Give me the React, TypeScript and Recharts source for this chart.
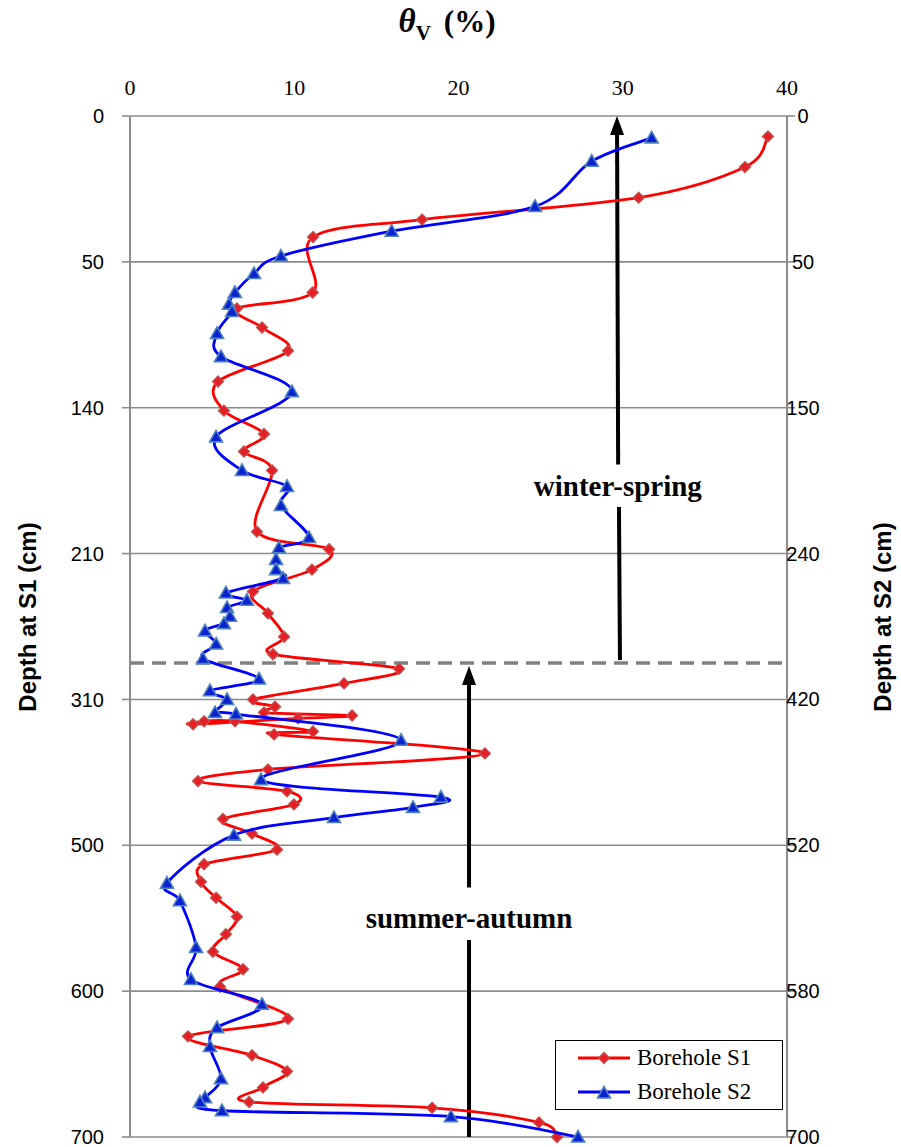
import React from 'react'
import {
  ScatterChart,
  Scatter,
  XAxis,
  YAxis,
  CartesianGrid,
  ReferenceLine,
  ReferenceDot,
  Legend,
} from 'recharts'

// theta_V (%) axis
const thetaTicks = [0, 10, 20, 30, 40]

// depth axes: gridlines are evenly spaced, the labels differ for each borehole
const depthTicks = [0, 1, 2, 3, 4, 5, 6, 7]
const depthLabelsS1 = ['0', '50', '140', '210', '310', '500', '600', '700']
const depthLabelsS2 = ['0', '50', '150', '240', '420', '520', '580', '700']

// Borehole S1: moisture (%) and position on the depth axis (grid units)
const s1Theta = [
  38.84, 37.44, 30.97, 17.78, 11.14, 11.12, 6.51, 8.04, 9.62, 5.36, 5.72, 8.16, 6.94, 8.65, 7.73,
  12.12, 11.08, 7.49, 8.4, 9.38, 8.71, 16.38, 13.03, 7.49, 8.83, 8.16, 13.52, 10.23, 3.84, 4.51,
  6.39, 11.14, 8.77, 21.61, 8.4, 4.14, 9.56, 9.98, 5.66, 7.43, 8.95, 4.51, 4.32, 5.24, 6.51, 5.84,
  5.05, 6.88, 5.48, 9.62, 3.53, 7.43, 9.56, 8.1, 7.25, 18.39, 24.9, 26.0,
]
const s1Pos = [
  0.14, 0.35, 0.56, 0.71, 0.83, 1.21, 1.32, 1.45, 1.61, 1.82, 2.02, 2.18, 2.3, 2.43, 2.85, 2.97,
  3.11, 3.26, 3.41, 3.57, 3.69, 3.79, 3.89, 4.0, 4.05, 4.09, 4.11, 4.13, 4.17, 4.15, 4.15, 4.22,
  4.24, 4.37, 4.48, 4.56, 4.63, 4.72, 4.82, 4.92, 5.03, 5.13, 5.25, 5.36, 5.49, 5.61, 5.73, 5.85,
  5.97, 6.19, 6.31, 6.44, 6.55, 6.66, 6.76, 6.8, 6.9, 7.0,
]

// Borehole S2
const s2Theta = [
  31.76, 28.11, 24.66, 15.93, 9.19, 7.55, 6.39, 6.03, 6.21, 5.3, 5.54, 9.86, 5.24, 6.82, 9.56,
  9.19, 10.9, 9.07, 8.89, 8.89, 9.32, 5.84, 7.12, 5.91, 6.09, 5.72, 4.57, 5.24, 4.44, 7.85, 4.87,
  5.91, 5.18, 6.45, 16.5, 7.98, 18.93, 17.23, 12.42, 6.33, 2.25, 3.04, 4.02, 3.71, 8.04, 5.3,
  4.87, 5.54, 4.57, 4.26, 5.6, 19.54, 27.28,
]
const s2Pos = [
  0.15, 0.31, 0.62, 0.79, 0.96, 1.08, 1.21, 1.29, 1.34, 1.49, 1.65, 1.89, 2.2, 2.43, 2.54, 2.67,
  2.89, 2.96, 3.04, 3.11, 3.17, 3.27, 3.32, 3.37, 3.43, 3.48, 3.53, 3.62, 3.72, 3.86, 3.94, 4.0,
  4.09, 4.1, 4.28, 4.55, 4.67, 4.74, 4.81, 4.93, 5.26, 5.38, 5.7, 5.92, 6.09, 6.25, 6.38, 6.6,
  6.73, 6.76, 6.82, 6.86, 7.0,
]

// season boundary (grid units)
const boundaryPos = 3.75

const s1Data = s1Theta.map((x, i) => ({ x, y: s1Pos[i] }))
const s2Data = s2Theta.map((x, i) => ({ x, y: s2Pos[i] }))
// the right axis needs a (hidden) series attached to be drawn
const rightAxisAnchor = [
  { x: 0, y: 0 },
  { x: 0, y: 7 },
]

const RED = '#ff0000'
const BLUE = '#0000ff'
const GRID = '#8c8c8c'
const SERIF = '"Liberation Serif", "Times New Roman", serif'
const SANS = '"Liberation Sans", Arial, sans-serif'

// Excel-like smoothed line (Catmull-Rom through the points in data order)
function SmoothLine(props: any) {
  const { points, lineColor } = props
  if (!points || points.length < 2) return null
  const p = points
  let d = `M${p[0].x},${p[0].y}`
  for (let i = 0; i < p.length - 1; i++) {
    const p0 = p[i - 1] ?? p[i]
    const p1 = p[i]
    const p2 = p[i + 1]
    const p3 = p[i + 2] ?? p2
    const c1x = p1.x + (p2.x - p0.x) / 6
    const c1y = p1.y + (p2.y - p0.y) / 6
    const c2x = p2.x - (p3.x - p1.x) / 6
    const c2y = p2.y - (p3.y - p1.y) / 6
    d += ` C${c1x},${c1y} ${c2x},${c2y} ${p2.x},${p2.y}`
  }
  return <path d={d} fill="none" stroke={lineColor} strokeWidth={2.8} strokeLinejoin="round" />
}

function Diamond(props: any) {
  const { cx, cy } = props
  const r = 5.5
  return (
    <polygon
      points={`${cx},${cy - r} ${cx + r},${cy} ${cx},${cy + r} ${cx - r},${cy}`}
      fill="#e61e26"
      stroke="#c0504d"
      strokeWidth={1.3}
    />
  )
}

function Triangle(props: any) {
  const { cx, cy } = props
  return (
    <polygon
      points={`${cx},${cy - 6.5} ${cx + 6.5},${cy + 5} ${cx - 6.5},${cy + 5}`}
      fill="#0a22d0"
      stroke="#4f81bd"
      strokeWidth={1.6}
    />
  )
}

function ArrowUp(props: any) {
  const { x1, y1, x2, y2 } = props
  // arrowhead at the upper end
  const top = y1 < y2 ? { x: x1, y: y1 } : { x: x2, y: y2 }
  const bot = y1 < y2 ? { x: x2, y: y2 } : { x: x1, y: y1 }
  const ang = Math.atan2(top.y - bot.y, top.x - bot.x)
  const len = 19
  const half = 7
  const bx = top.x - len * Math.cos(ang)
  const by = top.y - len * Math.sin(ang)
  const px = -Math.sin(ang) * half
  const py = Math.cos(ang) * half
  return (
    <g>
      <line x1={bot.x} y1={bot.y} x2={bx} y2={by} stroke="#000" strokeWidth={4} />
      <polygon points={`${top.x},${top.y} ${bx + px},${by + py} ${bx - px},${by - py}`} fill="#000" />
    </g>
  )
}

function makeText(text: string) {
  return (props: any) => (
    <text
      x={props.cx}
      y={props.cy}
      textAnchor="middle"
      dominantBaseline="central"
      fontFamily={SERIF}
      fontWeight={700}
      fontSize={29}
      fill="#000"
    >
      {text}
    </text>
  )
}

function RightTick(props: any) {
  const { x, y, payload } = props
  return (
    <text x={x} y={y} dy={7} textAnchor="middle" fontFamily={SANS} fontSize={20} fill="#000">
      {depthLabelsS2[payload.value]}
    </text>
  )
}

function LegendBox() {
  const row = (label: string, color: string, marker: 'd' | 't') => (
    <div style={{ display: 'flex', alignItems: 'center', height: 34 }}>
      <svg width={60} height={20}>
        <line x1={4} y1={10} x2={56} y2={10} stroke={color} strokeWidth={3} />
        {marker === 'd' ? <Diamond cx={30} cy={10} /> : <Triangle cx={30} cy={11} />}
      </svg>
      <span style={{ marginLeft: 3, fontFamily: SERIF, fontSize: 23, color: '#000' }}>{label}</span>
    </div>
  )
  return (
    <div
      style={{
        border: '1.5px solid #000',
        background: '#fff',
        width: 228,
        height: 70,
        boxSizing: 'border-box',
        paddingLeft: 18,
      }}
    >
      {row('Borehole S1', RED, 'd')}
      {row('Borehole S2', BLUE, 't')}
    </div>
  )
}

const sideTitle = {
  position: 'absolute' as const,
  top: 617,
  transform: 'translate(-50%, -50%) rotate(-90deg)',
  whiteSpace: 'nowrap' as const,
  fontFamily: SANS,
  fontWeight: 700,
  fontSize: 24,
  color: '#000',
}

export default function App() {
  return (
    <div style={{ position: 'absolute', left: 0, top: 0, width: 901, height: 1147, background: '#fff' }}>
      <div
        style={{
          position: 'absolute',
          left: 0,
          top: 3,
          width: 894,
          textAlign: 'center',
          fontFamily: SERIF,
          fontWeight: 700,
          fontSize: 31,
          color: '#000',
        }}
      >
        <span style={{ fontStyle: 'italic', fontSize: 33 }}>θ</span>
        <span style={{ fontSize: 21, position: 'relative', top: 8 }}>V</span>
        <span style={{ marginLeft: 13 }}>(%)</span>
      </div>

      <div style={{ ...sideTitle, left: 28 }}>Depth at S1 (cm)</div>
      <div style={{ ...sideTitle, left: 883 }}>Depth at S2 (cm)</div>

      <ScatterChart width={901} height={1147} margin={{ top: 0, right: 0, left: 0, bottom: 10 }}>
        <CartesianGrid vertical={false} stroke={GRID} strokeWidth={1.6} yAxisId="left" />
        <XAxis
          dataKey="x"
          type="number"
          orientation="top"
          height={116}
          domain={[0, 40]}
          ticks={thetaTicks}
          axisLine={false}
          tickLine={false}
          tickSize={0}
          tickMargin={21}
          tick={{ fontFamily: SERIF, fontSize: 22, fill: '#000' }}
        />
        <YAxis
          yAxisId="left"
          dataKey="y"
          type="number"
          orientation="left"
          width={130}
          domain={[0, 7]}
          reversed
          ticks={depthTicks}
          interval={0}
          tickFormatter={(v: number) => depthLabelsS1[v]}
          axisLine={{ stroke: GRID, strokeWidth: 2 }}
          tickLine={{ stroke: GRID, strokeWidth: 1.6 }}
          tickSize={8}
          tickMargin={18}
          tick={{ fontFamily: SANS, fontSize: 20, fill: '#000' }}
        />
        <YAxis
          yAxisId="right"
          dataKey="y"
          type="number"
          orientation="right"
          width={114}
          domain={[0, 7]}
          reversed
          ticks={depthTicks}
          interval={0}
          axisLine={{ stroke: GRID, strokeWidth: 2 }}
          tickLine={{ stroke: GRID, strokeWidth: 1.6 }}
          tickSize={8}
          tickMargin={8}
          tick={<RightTick />}
        />

        <ReferenceLine
          yAxisId="left"
          y={boundaryPos}
          stroke="#808080"
          strokeWidth={3.5}
          strokeDasharray="14 8"
        />

        <Scatter
          yAxisId="right"
          data={rightAxisAnchor}
          shape={() => <g />}
          legendType="none"
          isAnimationActive={false}
        />
        <Scatter
          name="Borehole S1"
          yAxisId="left"
          data={s1Data}
          fill={RED}
          line={<SmoothLine lineColor={RED} />}
          shape={<Diamond />}
          isAnimationActive={false}
        />
        <Scatter
          name="Borehole S2"
          yAxisId="left"
          data={s2Data}
          fill={BLUE}
          line={<SmoothLine lineColor={BLUE} />}
          shape={<Triangle />}
          isAnimationActive={false}
        />

        {/* winter-spring arrow, broken around its label */}
        <ReferenceLine
          yAxisId="left"
          segment={[
            { x: 29.83, y: 3.73 },
            { x: 29.77, y: 2.68 },
          ]}
          stroke="#000"
          strokeWidth={4}
        />
        <ReferenceLine
          yAxisId="left"
          segment={[
            { x: 29.72, y: 2.39 },
            { x: 29.65, y: 0 },
          ]}
          shape={ArrowUp}
        />
        <ReferenceDot yAxisId="left" x={29.7} y={2.54} r={0} shape={makeText('winter-spring')} />

        {/* summer-autumn arrow */}
        <ReferenceLine
          yAxisId="left"
          segment={[
            { x: 20.64, y: 5.29 },
            { x: 20.64, y: 3.77 },
          ]}
          shape={ArrowUp}
        />
        <ReferenceLine
          yAxisId="left"
          segment={[
            { x: 20.64, y: 5.65 },
            { x: 20.64, y: 7.0 },
          ]}
          stroke="#000"
          strokeWidth={4}
        />
        <ReferenceDot yAxisId="left" x={20.64} y={5.5} r={0} shape={makeText('summer-autumn')} />

        <Legend
          layout="vertical"
          align="center"
          verticalAlign="middle"
          wrapperStyle={{ left: 555, top: 1040, width: 228, height: 70 }}
          content={() => <LegendBox />}
        />
      </ScatterChart>
    </div>
  )
}
